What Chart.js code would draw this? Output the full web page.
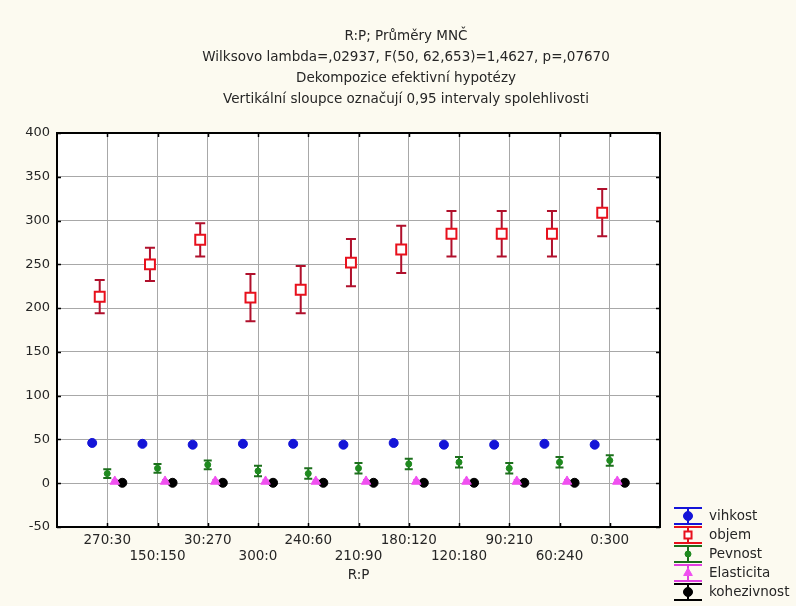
<!DOCTYPE html>
<html><head><meta charset="utf-8">
<script src="https://cdn.jsdelivr.net/npm/chart.js@4.4.0/dist/chart.umd.min.js"></script>
<style>html,body{margin:0;padding:0;background:#fcfaf0;} canvas{display:block;}</style>
</head><body>
<canvas id="c" width="796" height="606"></canvas>
<script>
// ---- data ----
const categories = ["270:30","150:150","30:270","300:0","240:60","210:90","180:120","120:180","90:210","60:240","0:300"];
const seriesNames = ["vihkost","objem","Pevnost","Elasticita","kohezivnost"];
const vihkost     = [46, 45, 44, 45, 45, 44, 46, 44, 44, 45, 44];
const vihkostErr  = [1.5, 1.5, 1.5, 2, 2, 1.5, 1.5, 1.5, 2, 1.5, 1.5];
const objem       = [213, 250, 278, 212, 221, 252, 267, 285, 285, 285, 309];
const objemErr    = [19, 19, 19, 27, 27, 27, 27, 26, 26, 26, 27];
const pevnost     = [11, 17, 21, 14, 11, 17, 22, 24, 17, 24, 26];
const pevnostErr  = [5, 5, 5, 6, 6, 6, 6, 6, 6, 6, 6];
const elasticita    = [2, 2, 2, 2, 2, 2, 2, 2, 2, 2, 2];
const elasticitaErr = [2, 2, 2, 2, 2, 2, 2, 2, 2, 2, 2];
const kohezivnost    = [0.5, 0.5, 0.5, 0.5, 0.5, 0.5, 0.5, 0.5, 0.5, 0.5, 0.5];
const kohezivnostErr = [1, 1, 1, 1, 1, 1, 1, 1, 1, 1, 1];
const yTickValues = [-50, 0, 50, 100, 150, 200, 250, 300, 350, 400];
const titleLines = ["R:P; Průměry MNČ",
  "Wilksovo lambda=,02937, F(50, 62,653)=1,4627, p=,07670",
  "Dekompozice efektivní hypotézy",
  "Vertikální sloupce označují 0,95 intervaly spolehlivosti"];
const xTitle = "R:P";

// ---- styles ----
const FONT = "DejaVu Sans";
const TEXT = "#262626";
const seriesValues = [vihkost, objem, pevnost, elasticita, kohezivnost];
const seriesErrors = [vihkostErr, objemErr, pevnostErr, elasticitaErr, kohezivnostErr];
const seriesOffset = [-0.3, -0.15, 0, 0.15, 0.3];
const styles = [
  {pointStyle:'circle', radius:4.5, bg:'#1414d8', border:'#1414d8', bw:1, err:'#1414d8', cap:8, ew:1.5},
  {pointStyle:'rect', radius:7, bg:'#ffffff', border:'#e8101c', bw:2, err:'#b0102c', cap:10, ew:2},
  {pointStyle:'circle', radius:3, bg:'#1f8a1f', border:'#1f8a1f', bw:1, err:'#1c701c', cap:8, ew:2},
  {pointStyle:'triangle', radius:5.5, bg:'#f050f0', border:'#f050f0', bw:1, err:'#e040e0', cap:6, ew:1.5},
  {pointStyle:'circle', radius:4.5, bg:'#000000', border:'#000000', bw:1, err:'#000000', cap:6, ew:1.5}
];

const datasets = seriesNames.map((name, s) => ({
  label: name,
  data: seriesValues[s].map((v, i) => ({x: i + seriesOffset[s], y: v})),
  errors: seriesErrors[s],
  pointStyle: styles[s].pointStyle,
  pointRadius: styles[s].radius,
  pointHoverRadius: styles[s].radius,
  backgroundColor: styles[s].bg,
  borderColor: styles[s].border,
  pointBorderWidth: styles[s].bw,
  showLine: false
}));

function drawMarker(ctx, st, x, y) {
  ctx.save();
  ctx.fillStyle = st.bg; ctx.strokeStyle = st.border; ctx.lineWidth = st.bw;
  ctx.beginPath();
  if (st.pointStyle === 'circle') {
    ctx.arc(x, y, st.radius, 0, Math.PI * 2);
  } else if (st.pointStyle === 'rect') {
    const h = st.radius * Math.SQRT1_2;
    ctx.rect(x - h, y - h, 2 * h, 2 * h);
  } else if (st.pointStyle === 'triangle') {
    const r = st.radius;
    ctx.moveTo(x, y - r);
    ctx.lineTo(x + r * 0.866, y + r * 0.5);
    ctx.lineTo(x - r * 0.866, y + r * 0.5);
    ctx.closePath();
  }
  ctx.fill(); ctx.stroke();
  ctx.restore();
}

const bgPlugin = {
  id: 'bg',
  beforeDraw(chart) {
    const {ctx, chartArea: a} = chart;
    ctx.save();
    ctx.fillStyle = '#fcfaf0';
    ctx.fillRect(0, 0, chart.width, chart.height);
    ctx.fillStyle = '#ffffff';
    ctx.fillRect(a.left, a.top, a.right - a.left, a.bottom - a.top);
    ctx.restore();
  }
};

const errorBars = {
  id: 'errorBars',
  beforeDatasetsDraw(chart) {
    const ctx = chart.ctx, ys = chart.scales.y;
    ctx.save();
    chart.data.datasets.forEach((ds, di) => {
      const meta = chart.getDatasetMeta(di);
      const st = styles[di];
      ctx.strokeStyle = st.err; ctx.lineWidth = st.ew;
      meta.data.forEach((pt, i) => {
        const v = ds.data[i].y, e = ds.errors[i];
        const yt = ys.getPixelForValue(v + e), yb = ys.getPixelForValue(v - e);
        const x = pt.x, w = st.cap / 2;
        ctx.beginPath();
        ctx.moveTo(x, yt); ctx.lineTo(x, yb);
        ctx.moveTo(x - w, yt); ctx.lineTo(x + w, yt);
        ctx.moveTo(x - w, yb); ctx.lineTo(x + w, yb);
        ctx.stroke();
      });
    });
    ctx.restore();
  }
};

const framePlugin = {
  id: 'frame',
  afterDraw(chart) {
    const {ctx, chartArea: a, scales} = chart;
    ctx.save();
    ctx.strokeStyle = '#000'; ctx.lineWidth = 1.5;
    ctx.beginPath();
    scales.x.ticks.forEach(t => {
      if (t.value <= -1 || t.value >= categories.length) return;
      const x = Math.round(scales.x.getPixelForValue(t.value)) + 0.5;
      ctx.moveTo(x, a.top); ctx.lineTo(x, a.top + 4);
      ctx.moveTo(x, a.bottom); ctx.lineTo(x, a.bottom - 4);
    });
    scales.y.ticks.forEach(t => {
      const y = Math.round(scales.y.getPixelForValue(t.value)) + 0.5;
      ctx.moveTo(a.left, y); ctx.lineTo(a.left + 4, y);
      ctx.moveTo(a.right, y); ctx.lineTo(a.right - 4, y);
    });
    ctx.stroke();
    ctx.lineWidth = 2;
    ctx.strokeRect(a.left, a.top, a.right - a.left, a.bottom - a.top);
    ctx.restore();
  }
};

const legendPlugin = {
  id: 'customLegend',
  afterDraw(chart) {
    const {ctx, chartArea: a} = chart;
    ctx.save();
    ctx.font = '13.5px "' + FONT + '"';
    ctx.textBaseline = 'middle';
    ctx.textAlign = 'left';
    seriesNames.forEach((name, s) => {
      const st = styles[s];
      const cy = a.bottom - 11 + s * 19;
      const x0 = a.right + 14, x1 = a.right + 42, cx = (x0 + x1) / 2;
      ctx.strokeStyle = st.err === '#ffffff' ? st.border : (s === 1 ? st.border : st.err);
      ctx.lineWidth = 2;
      ctx.beginPath();
      ctx.moveTo(x0, cy - 8); ctx.lineTo(x1, cy - 8);
      ctx.moveTo(x0, cy + 8); ctx.lineTo(x1, cy + 8);
      ctx.moveTo(cx, cy - 8); ctx.lineTo(cx, cy + 8);
      ctx.stroke();
      drawMarker(ctx, Object.assign({}, st, {radius: Math.min(st.radius, 5)}), cx, cy);
      ctx.fillStyle = TEXT;
      ctx.fillText(name, a.right + 49, cy);
    });
    ctx.restore();
  }
};

new Chart(document.getElementById('c'), {
  type: 'scatter',
  data: {datasets},
  options: {
    responsive: false,
    animation: false,
    devicePixelRatio: 1,
    layout: {padding: {left: 16, right: 0, top: 0, bottom: 0}},
    plugins: {
      legend: {display: false},
      tooltip: {enabled: false},
      title: {
        display: true,
        text: titleLines,
        color: TEXT,
        font: {family: FONT, size: 13.5, weight: 'normal', lineHeight: '21px'},
        padding: {top: 26, bottom: 23}
      }
    },
    scales: {
      x: {
        type: 'linear',
        min: -1, max: categories.length,
        afterBuildTicks: s => { s.ticks = Array.from({length: categories.length + 2}, (_, k) => ({value: k - 1})); },
        afterFit: s => { s.height = 79; },
        grid: {color: '#a8a8a8', lineWidth: 1, drawTicks: false},
        border: {display: false},
        ticks: {
          autoSkip: false, maxRotation: 0, minRotation: 0, padding: 6,
          color: TEXT, font: {family: FONT, size: 13.5, lineHeight: 1.15},
          callback: v => {
            if (v < 0 || v >= categories.length) return '';
            return v % 2 === 0 ? [categories[v]] : ['', categories[v]];
          }
        },
        title: {display: true, text: xTitle, color: TEXT,
          font: {family: FONT, size: 13.5, lineHeight: 1.15}, padding: {top: 0, bottom: 23}}
      },
      y: {
        type: 'linear', position: 'left',
        min: -50, max: 400,
        afterBuildTicks: s => { s.ticks = yTickValues.map(v => ({value: v})); },
        afterFit: s => { s.width = 41; },
        grid: {color: '#a8a8a8', lineWidth: 1, drawTicks: false},
        border: {display: false},
        ticks: {padding: 7, color: TEXT, font: {family: FONT, size: 13}}
      },
      yR: {
        type: 'linear', position: 'right', display: true,
        min: -50, max: 400,
        afterFit: s => { s.width = 136; },
        grid: {display: false, drawTicks: false},
        border: {display: false},
        ticks: {display: false}
      }
    }
  },
  plugins: [bgPlugin, errorBars, framePlugin, legendPlugin]
});
</script>
</body></html>
